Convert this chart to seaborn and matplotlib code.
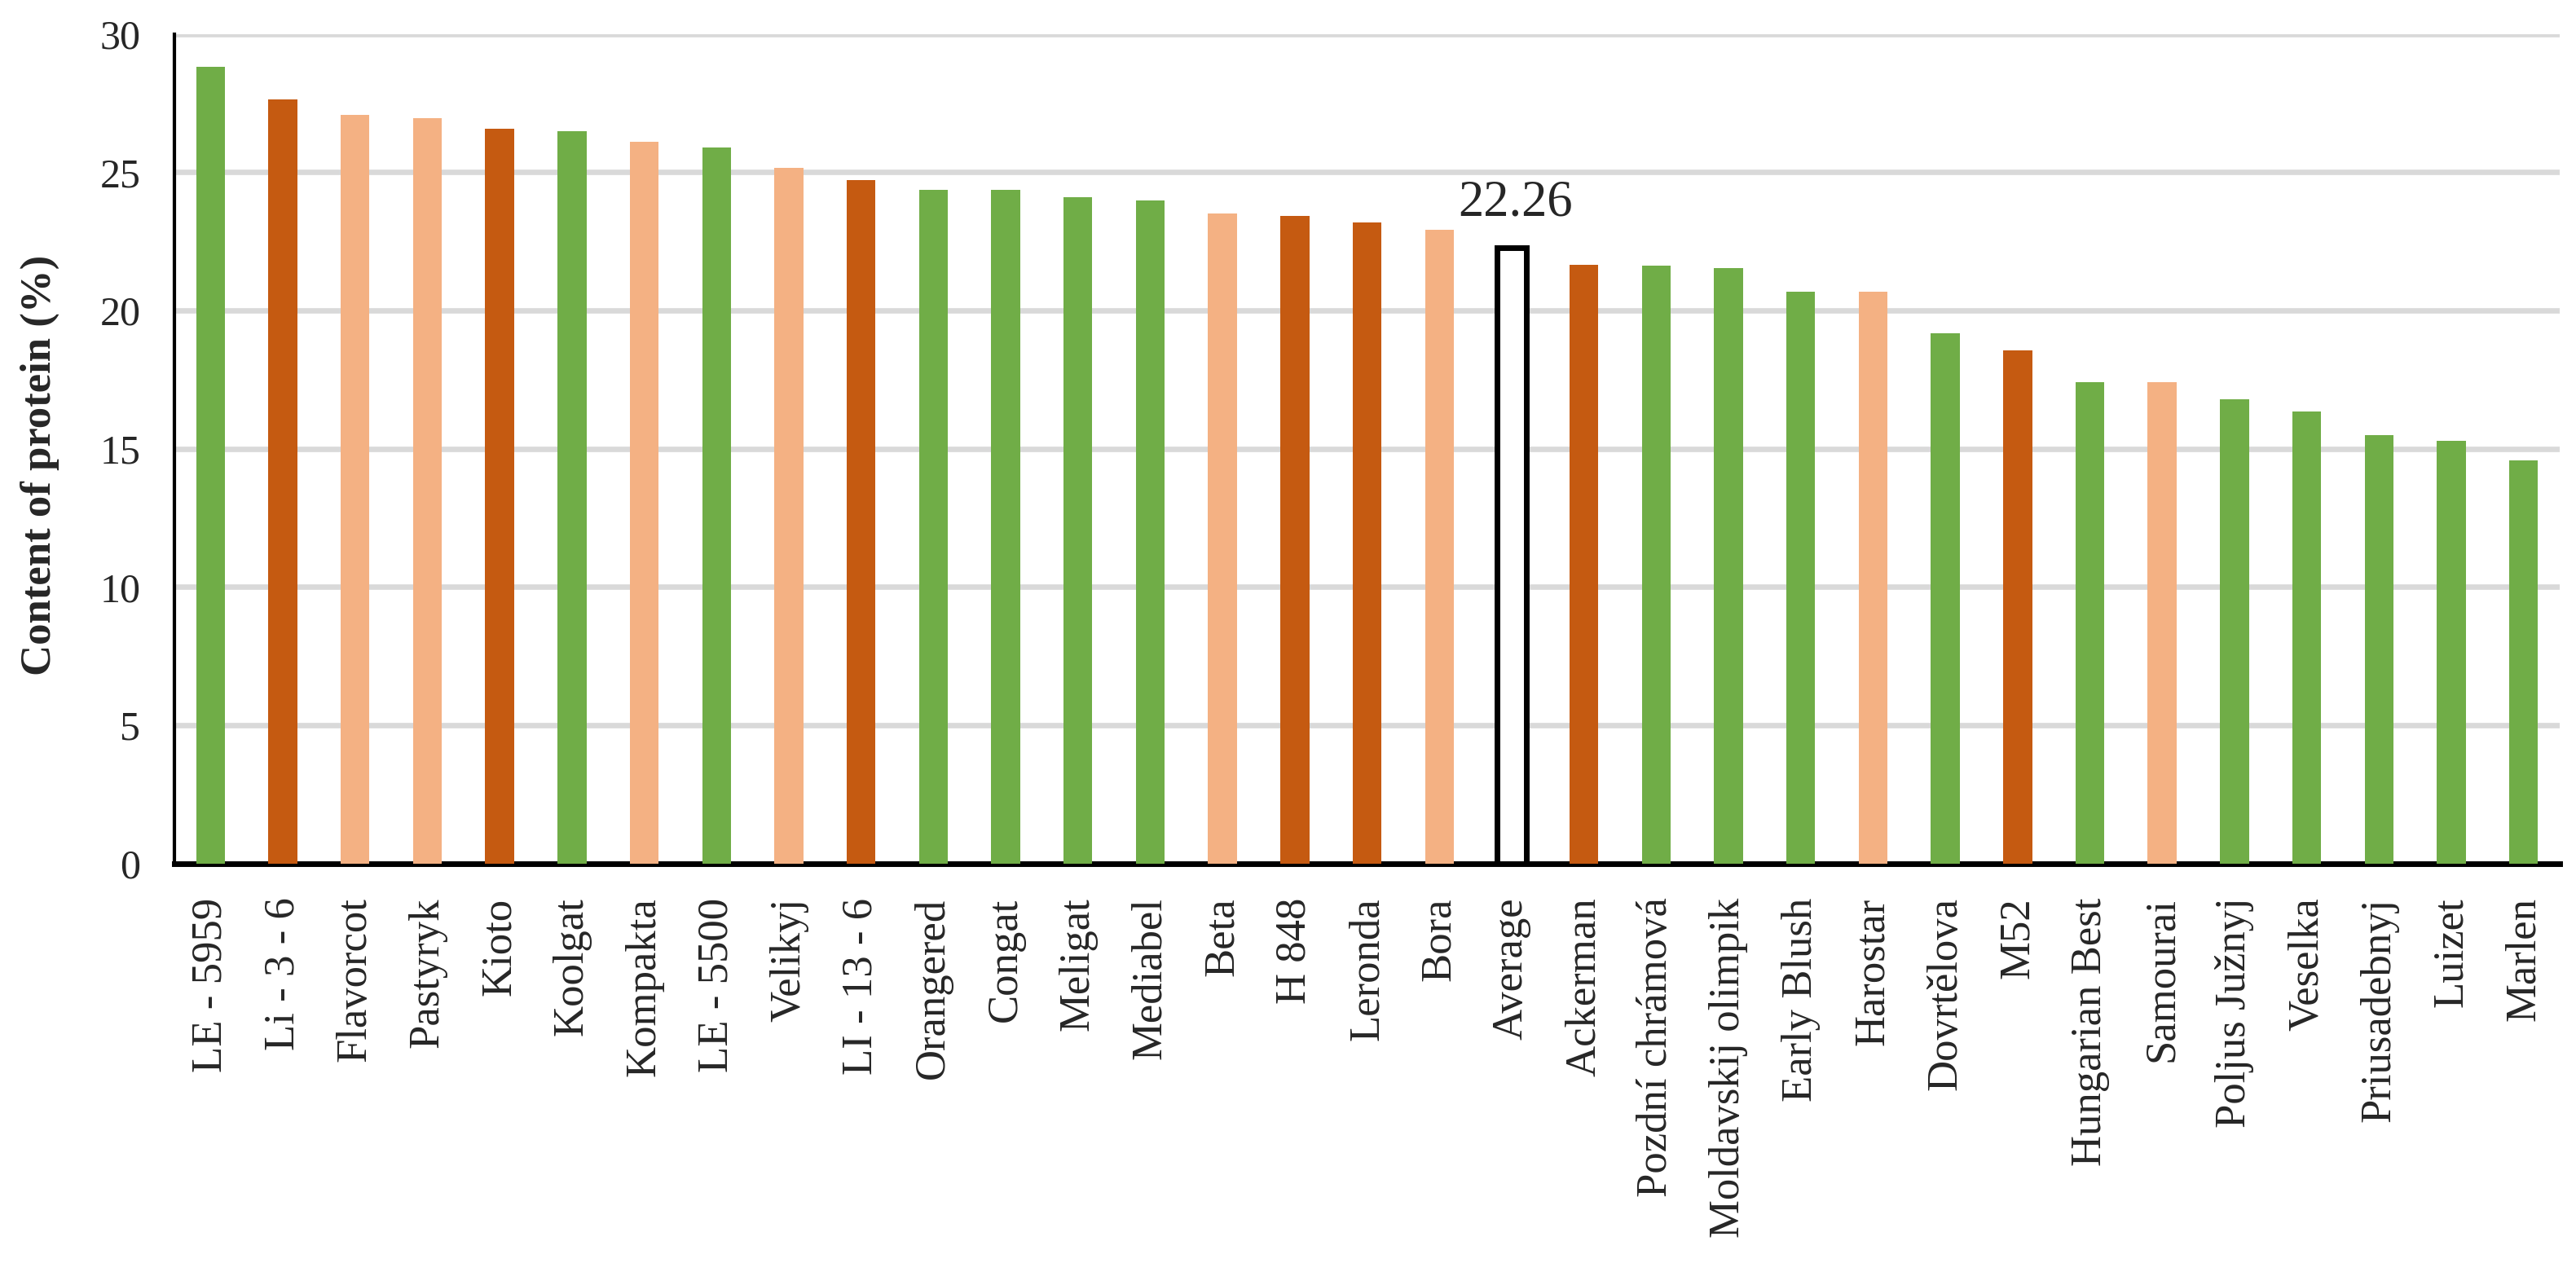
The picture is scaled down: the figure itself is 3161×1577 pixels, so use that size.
import numpy as np
import pandas as pd
import matplotlib
matplotlib.use("Agg")
import matplotlib.pyplot as plt
import seaborn as sns

# -------- Data --------
varieties = ["LE - 5959", "Li - 3 - 6", "Flavorcot", "Pastyryk", "Kioto", "Koolgat",
             "Kompakta", "LE - 5500", "Velikyj", "LI - 13 - 6", "Orangered", "Congat",
             "Meligat", "Mediabel", "Beta", "H 848", "Leronda", "Bora", "Average",
             "Ackerman", "Pozdní chrámová", "Moldavskij olimpik", "Early Blush",
             "Harostar", "Dovrtělova", "M52", "Hungarian Best", "Samourai",
             "Poljus Južnyj", "Veselka", "Priusadebnyj", "Luizet", "Marlen"]
protein = [28.82, 27.63, 27.06, 26.94, 26.58, 26.47, 26.11, 25.88, 25.16, 24.70,
           24.35, 24.35, 24.11, 23.99, 23.52, 23.41, 23.17, 22.93, 22.26,
           21.64, 21.62, 21.52, 20.69, 20.69, 19.17, 18.57, 17.40, 17.40,
           16.80, 16.34, 15.50, 15.28, 14.57]
group = ["g", "o", "p", "p", "o", "g", "p", "g", "p", "o", "g", "g", "g", "g", "p",
         "o", "o", "p", "avg", "o", "g", "g", "g", "p", "g", "o", "g", "p", "g", "g",
         "g", "g", "g"]
group_colors = {"g": "#70AD47", "o": "#C55A11", "p": "#F4B183", "avg": "#FFFFFF"}
average_label = "22.26"

df = pd.DataFrame({"variety": varieties, "protein": protein})
palette = {v: group_colors[g] for v, g in zip(varieties, group)}

# -------- Plot --------
sns.set_style("white")
plt.rcParams["font.family"] = ["Liberation Serif", "DejaVu Serif"]

fig = plt.figure(figsize=(15.805, 7.885), dpi=200)
ax = fig.add_axes([0.0677, 0.328, 0.9260, 0.6456])

sns.barplot(data=df, x="variety", y="protein", hue="variety", palette=palette,
            legend=False, width=0.4, saturation=1, ax=ax, zorder=3)

# average bar: white with black outline
avg_idx = varieties.index("Average")
for i, patch in enumerate(ax.patches):
    if i == avg_idx:
        patch.set_facecolor("white")
        patch.set_edgecolor("black")
        patch.set_linewidth(2.5)
    else:
        patch.set_linewidth(0)

ax.text(avg_idx + 0.05, protein[avg_idx] + 0.75, average_label, ha="center",
        va="bottom", fontsize=22.5)

ax.set_ylim(0, 30)
ax.set_xlim(-0.5, len(varieties) - 0.5)
ax.set_yticks(np.arange(0, 31, 5))
ax.yaxis.grid(True, color="#D9D9D9", linewidth=2.4, zorder=0)
ax.set_axisbelow(True)

ax.set_xticks(range(len(varieties)))
ax.set_xticklabels(varieties, rotation=90, fontsize=19)
ax.set_xticks(np.arange(-0.5, len(varieties), 1), minor=True)
ax.tick_params(axis="x", which="major", length=0, pad=15)
ax.tick_params(axis="x", which="minor", length=5, width=1.8, color="black", direction="out")
ax.tick_params(axis="y", which="major", length=6, width=1.3, color="black",
               direction="out", labelsize=18, pad=9)

for side in ["top", "right"]:
    ax.spines[side].set_visible(False)
ax.spines["left"].set_linewidth(1.5)
ax.spines["left"].set_color("black")
ax.spines["bottom"].set_linewidth(2.5)
ax.spines["bottom"].set_color("black")

ax.set_xlabel("")
ax.set_ylabel("Content of protein (%)", fontsize=19, fontweight="bold")
ax.yaxis.set_label_coords(-0.048, 0.48)

plt.savefig("out.png", dpi=200)
plt.close()
